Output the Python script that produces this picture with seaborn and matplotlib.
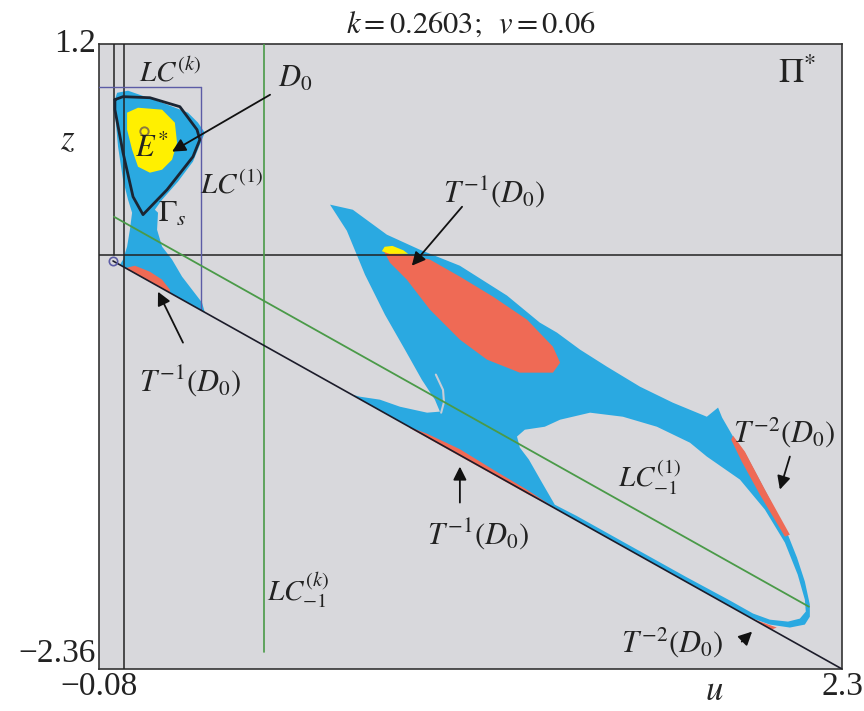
import numpy as np
import pandas as pd
import matplotlib
matplotlib.use("Agg")
import matplotlib.pyplot as plt
import seaborn as sns

# ---------------- data (phase plane u, z) ----------------
U_RANGE = [-0.08, 2.3]
Z_RANGE = [-2.36, 1.2]
x_tick_vals = [-0.08, 2.3]
x_tick_labels = ["\u22120.08", "2.3"]
y_tick_vals = [-2.36, 1.2]
y_tick_labels = ["\u22122.36", "1.2"]

# big basin region (blue), outer boundary
blue_main_u = [0.660, 0.733, 0.842, 0.948, 1.076, 1.227, 1.332, 1.387, 1.461, 1.547, 1.653, 1.758,
               1.867, 1.903, 1.916, 1.951, 1.990, 2.050, 2.124, 2.156, 2.181, 2.197, 2.197, 2.181,
               2.133, 2.069, 2.015, 1.941, 1.8, 1.6, 1.4, 1.2, 1.0, 0.82, 0.73,
               0.756, 0.820, 0.884, 0.971, 1.012, 0.996, 0.954, 0.900, 0.836, 0.772, 0.714]
blue_main_z = [0.285, 0.256, 0.114, 0.028, -0.063, -0.233, -0.387, -0.444, -0.541, -0.638, -0.752, -0.843,
               -0.923, -0.871, -0.928, -1.036, -1.130, -1.330, -1.583, -1.726, -1.862, -1.993, -2.062, -2.107,
               -2.124, -2.107, -2.073, -2.003, -1.862, -1.663, -1.464, -1.265, -1.066, -0.887, -0.797,
               -0.809, -0.826, -0.866, -0.900, -0.894, -0.826, -0.712, -0.541, -0.342, -0.114, 0.136]

# hole inside the big region (LC_{-1}^{(1)} area)
hole_u = [1.259, 1.284, 1.348, 1.397, 1.493, 1.598, 1.707, 1.813, 1.867, 1.973, 2.053, 2.117, 2.158,
          2.181, 2.184, 2.165, 2.127, 2.069, 2.015, 1.941, 1.8, 1.6, 1.45, 1.380, 1.339, 1.297, 1.268]
hole_z = [-1.036, -0.997, -0.980, -0.940, -0.900, -0.923, -0.980, -1.071, -1.150, -1.281, -1.452, -1.640,
          -1.822, -1.965, -2.033, -2.073, -2.090, -2.079, -2.044, -1.970, -1.835, -1.637, -1.488, -1.424,
          -1.298, -1.167, -1.099]

# T^{-1}(D0) large red region
red_main_u = [0.830, 0.906, 0.980, 1.076, 1.182, 1.291, 1.374, 1.397, 1.374, 1.268, 1.163, 1.076, 0.980, 0.906, 0.852]
red_main_z = [0.028, 0.0, -0.028, -0.125, -0.239, -0.370, -0.524, -0.615, -0.672, -0.672, -0.598, -0.484, -0.313, -0.142, -0.046]

yellow_small_u = [0.826, 0.835, 0.860, 0.895, 0.910, 0.850]
yellow_small_z = [0.020, 0.045, 0.050, 0.025, 0.005, 0.005]

# red strip along LC_{-1} (T^{-1}(D0), middle)
red_strip_u = [0.916, 0.971, 1.076, 1.182, 1.291, 1.387, 1.291, 1.182, 1.076, 0.971, 0.916]
red_strip_z = [-0.983, -1.020, -1.108, -1.224, -1.339, -1.451, -1.362, -1.253, -1.148, -1.043, -0.988]

# T^{-2}(D0) strips
red_t2_u = [1.951, 1.989, 2.053, 2.133, 2.117, 2.037, 1.979, 1.945]
red_t2_z = [-1.031, -1.122, -1.338, -1.595, -1.606, -1.367, -1.179, -1.054]
red_t2b_u = [2.021, 2.091, 2.075, 2.030]
red_t2b_z = [-2.079, -2.124, -2.135, -2.092]

# upper-left basin (blue) around E*
blue_left_u = [-0.022, 0.013, 0.122, 0.205, 0.237, 0.259, 0.243, 0.221, 0.173, 0.122, 0.099, 0.109, 0.106,
               0.122, 0.154, 0.186, 0.218, 0.250, 0.259, -0.013, -0.003, 0.010, 0.019, 0.026, 0.013,
               -0.003, -0.019, -0.029, -0.029]
blue_left_z = [0.922, 0.934, 0.866, 0.809, 0.752, 0.695, 0.626, 0.530, 0.416, 0.313, 0.256, 0.239, 0.142,
               0.046, -0.028, -0.125, -0.199, -0.273, -0.329, -0.058, -0.028, 0.046, 0.142, 0.239, 0.313,
               0.427, 0.615, 0.809, 0.883]

red_left_u = [0.010, 0.035, 0.083, 0.122, 0.147, 0.147, 0.083, 0.010]
red_left_z = [-0.074, -0.063, -0.097, -0.142, -0.199, -0.215, -0.155, -0.083]

yellow_d0_u = [0.010, 0.045, 0.122, 0.163, 0.170, 0.154, 0.122, 0.083, 0.045, 0.026, 0.010]
yellow_d0_z = [0.809, 0.837, 0.826, 0.752, 0.638, 0.541, 0.484, 0.467, 0.501, 0.598, 0.712]

gamma_u = [-0.029, -0.003, 0.083, 0.179, 0.234, 0.243, 0.221, 0.138, 0.061, 0.029, -0.003, -0.029, -0.029]
gamma_z = [0.883, 0.900, 0.894, 0.843, 0.712, 0.655, 0.558, 0.370, 0.228, 0.330, 0.581, 0.826, 0.883]

arc_u = [0.999, 1.022, 1.025, 1.016]
arc_z = [-0.683, -0.770, -0.840, -0.900]

E_star = (0.064, 0.706)
saddle = (-0.035, -0.034)

# critical lines
lc_minus1_u = [-0.035, 2.3]
lc_minus1_z = [-0.036, -2.36]
lc1_u = [-0.032, 2.194]
lc1_z = [0.216, -2.005]
lck_minus1_u = 0.448
lck_minus1_z = [1.2, -2.261]
v_line_u = -0.032
box_u = 0.247
box_z = 0.957
box_bottom_z = -0.313

# ---------------- style ----------------
GRAY = "#d8d8dc"
BLUE = "#2aa9e1"
RED = "#ef6a55"
YELLOW = "#fff000"
GREEN = "#4a9a48"
PURPLE = "#5c5ca6"
DARK = "#1b2533"

sns.set_theme(style="white")
plt.rcParams["font.family"] = ["Liberation Serif", "DejaVu Serif"]
plt.rcParams["mathtext.fontset"] = "stix"

fig = plt.figure(figsize=(8.64, 7.11), dpi=100)
ax = fig.add_axes([99 / 864, 42 / 711, 743 / 864, 625 / 711])
ax.set_xlim(*U_RANGE)
ax.set_ylim(*Z_RANGE)
ax.set_facecolor(GRAY)

# regions
ax.fill(blue_main_u, blue_main_z, color=BLUE, lw=0, zorder=1)
ax.fill(hole_u, hole_z, color=GRAY, lw=0, zorder=1.5)
ax.fill(red_main_u, red_main_z, color=RED, lw=0, zorder=2)
ax.fill(yellow_small_u, yellow_small_z, color=YELLOW, lw=0, zorder=2)
ax.fill(red_strip_u, red_strip_z, color=RED, lw=0, zorder=2)
ax.fill(red_t2_u, red_t2_z, color=RED, lw=0, zorder=2)
ax.fill(red_t2b_u, red_t2b_z, color=RED, lw=0, zorder=2)
ax.fill(blue_left_u, blue_left_z, color=BLUE, lw=0, zorder=1)
ax.fill(red_left_u, red_left_z, color=RED, lw=0, zorder=2)
ax.fill(yellow_d0_u, yellow_d0_z, color=YELLOW, lw=0, zorder=2)
sns.lineplot(x=arc_u, y=arc_z, ax=ax, color="#c9cdd6", lw=1.5, sort=False, estimator=None, zorder=2.5)

# lines
ax.axhline(0, color="#222222", lw=1.1, zorder=3)
ax.axvline(0, color="#222222", lw=1.1, zorder=3)
ax.plot([v_line_u, v_line_u], [Z_RANGE[1], 0], color="#222222", lw=1.1, zorder=3)
ax.plot([U_RANGE[0], box_u], [box_z, box_z], color=PURPLE, lw=1.0, zorder=3)
ax.plot([box_u, box_u], [box_z, box_bottom_z], color=PURPLE, lw=1.0, zorder=3)
ax.plot([lck_minus1_u, lck_minus1_u], lck_minus1_z, color=GREEN, lw=1.2, zorder=3)
sns.lineplot(x=lc1_u, y=lc1_z, ax=ax, color=GREEN, lw=1.3, sort=False, estimator=None, zorder=3)
sns.lineplot(x=lc_minus1_u, y=lc_minus1_z, ax=ax, color="#1c1c2a", lw=1.2, sort=False, estimator=None, zorder=3)
sns.lineplot(x=gamma_u, y=gamma_z, ax=ax, color=DARK, lw=2.0, sort=False, estimator=None, zorder=4)
ax.plot(*saddle, marker="o", ms=6, mfc="none", mec=PURPLE, mew=1.2, zorder=5)
ax.plot(*E_star, marker="o", ms=6, mfc="none", mec="#8b7a3e", mew=1.4, zorder=5)

# annotations
def arrow(tail, tip):
    ax.annotate("", xy=tip, xytext=tail,
                arrowprops=dict(arrowstyle="-|>", color="#111111", lw=1.3, mutation_scale=20,
                                shrinkA=0, shrinkB=0), zorder=6)

arrow((0.468, 0.911), (0.154, 0.587))
arrow((1.083, 0.273), (0.922, -0.063))
arrow((0.189, -0.501), (0.109, -0.211))
arrow((1.076, -1.412), (1.076, -1.207))
arrow((2.133, -1.150), (2.101, -1.338))
arrow((1.979, -2.204), (2.012, -2.147))

tk = dict(color="#222222", ha="center", va="center", zorder=7)
ax.text(0.147, 1.036, r"$LC^{(k)}$", fontsize=21, **tk)
ax.text(0.548, 0.997, r"$D_{0}$", fontsize=22, **tk)
ax.text(0.346, 0.393, r"$LC^{(1)}$", fontsize=21, **tk)
ax.text(0.154, 0.228, r"$\Gamma_{s}$", fontsize=22, **tk)
ax.text(0.090, 0.600, r"$E^{*}$", fontsize=22, **tk)
ax.text(2.156, 1.025, r"$\Pi^{*}$", fontsize=25, **tk)
ax.text(1.185, 0.359, r"$T^{-1}\left(D_{0}\right)$", fontsize=22, **tk)
ax.text(0.211, -0.718, r"$T^{-1}\left(D_{0}\right)$", fontsize=22, **tk)
ax.text(1.134, -1.589, r"$T^{-1}\left(D_{0}\right)$", fontsize=22, **tk)
ax.text(1.685, -1.270, r"$LC_{-1}^{(1)}$", fontsize=21, **tk)
ax.text(2.114, -1.008, r"$T^{-2}\left(D_{0}\right)$", fontsize=22, **tk)
ax.text(1.755, -2.204, r"$T^{-2}\left(D_{0}\right)$", fontsize=22, **tk)
ax.text(0.557, -1.908, r"$LC_{-1}^{(k)}$", fontsize=21, **tk)

# axes, ticks
ax.set_xticks(x_tick_vals)
ax.set_xticklabels(x_tick_labels, fontsize=24)
ax.set_yticks(y_tick_vals)
ax.set_yticklabels(y_tick_labels, fontsize=24)
ax.tick_params(axis="both", length=0, pad=2, colors="#222222")
for lab, va in zip(ax.get_yticklabels(), ["bottom", "center"]):
    lab.set_va(va)
ax.set_xlabel("")
ax.set_ylabel("")
ax.text(-0.179, 0.649, r"$z$", fontsize=25, ha="center", va="center", clip_on=False)
ax.text(1.890, -2.489, r"$u$", fontsize=25, ha="center", va="center", clip_on=False)
ax.set_title(r"$k=0.2603;\;\; v=0.06$", fontsize=22, pad=8, color="#222222")
for s in ax.spines.values():
    s.set_color("#333333")
    s.set_linewidth(1.2)
    s.set_visible(True)

fig.savefig("out.png", dpi=100, facecolor="white")
